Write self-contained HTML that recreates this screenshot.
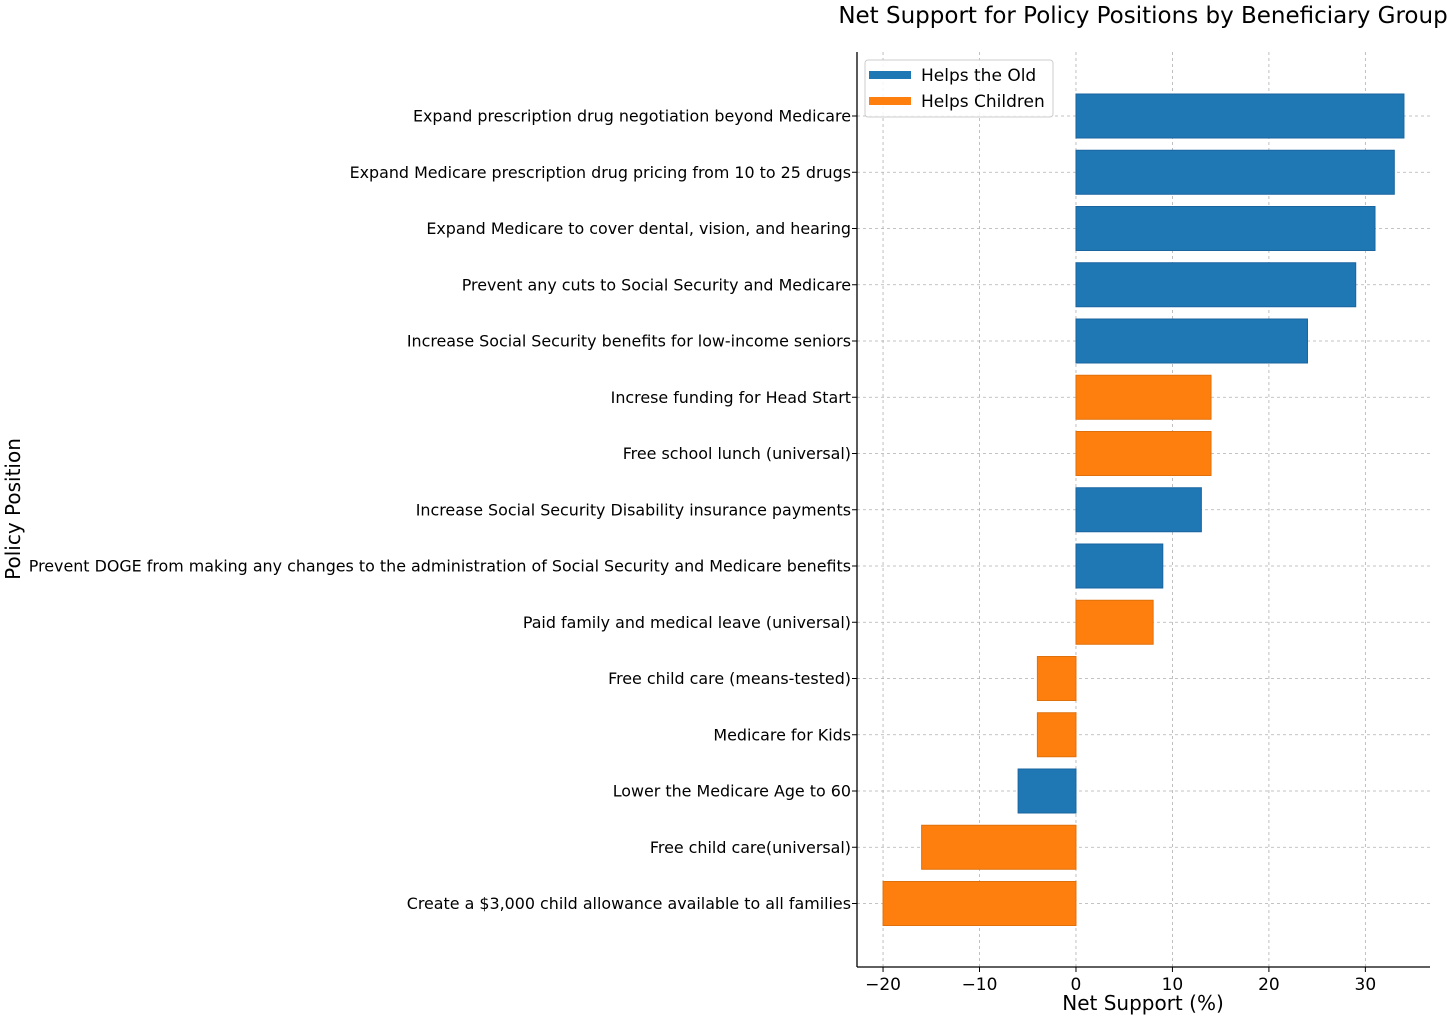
<!DOCTYPE html>
<html><head><meta charset="utf-8"><style>
html,body{margin:0;padding:0;background:#fff;}
svg{display:block;font-family:"DejaVu Sans","Liberation Sans",sans-serif;}
</style></head><body>
<svg id="chart" width="1456" height="1020" xmlns="http://www.w3.org/2000/svg"></svg>
<script>
const categories = [
"Expand prescription drug negotiation beyond Medicare",
"Expand Medicare prescription drug pricing from 10 to 25 drugs",
"Expand Medicare to cover dental, vision, and hearing",
"Prevent any cuts to Social Security and Medicare",
"Increase Social Security benefits for low-income seniors",
"Increse funding for Head Start",
"Free school lunch (universal)",
"Increase Social Security Disability insurance payments",
"Prevent DOGE from making any changes to the administration of Social Security and Medicare benefits",
"Paid family and medical leave (universal)",
"Free child care (means-tested)",
"Medicare for Kids",
"Lower the Medicare Age to 60",
"Free child care(universal)",
"Create a $3,000 child allowance available to all families"];
const values = [34,33,31,29,24,14,14,13,9,8,-4,-4,-6,-16,-20];
const groups = ["old","old","old","old","old","child","child","old","old","child","child","child","old","child","child"];
const xTicks = [-20,-10,0,10,20,30];
const xTickLabels = ["\u221220","\u221210","0","10","20","30"];

const NS="http://www.w3.org/2000/svg";
const svg=document.getElementById('chart');
const L=857,R=1430,T=52,B=967;
const xMin=-22.7,xMax=36.7;
const x=v=>L+(v-xMin)/(xMax-xMin)*(R-L);
const y0=116,step=56.25,bh=44;
const y=i=>y0+i*step;
const colors={old:"#1f77b4",child:"#ff7f0e"};
const edges={old:"#1a65a0",child:"#e0700c"};
function el(t,a,txt){const e=document.createElementNS(NS,t);for(const k in a)e.setAttribute(k,a[k]);if(txt!==undefined)e.textContent=txt;svg.appendChild(e);return e;}

xTicks.forEach((t,i)=>{
  const g=el('line',{x1:x(t),x2:x(t),y1:T,y2:B,stroke:"#b0b0b0","stroke-dasharray":"3,3","stroke-width":0.8});
  
  
  const tk=el('line',{x1:x(t),x2:x(t),y1:B,y2:B+5,stroke:"#000"});
  
  
  const lb=el('text',{x:x(t),y:B+23,"text-anchor":"middle","font-size":17,fill:"#000"},xTickLabels[i]);
  
  
});
categories.forEach((c,i)=>{
  const g=el('line',{x1:L,x2:R,y1:y(i),y2:y(i),stroke:"#b0b0b0","stroke-dasharray":"3,3","stroke-width":0.8});
  
  
});
values.forEach((v,i)=>{
  const r=el('rect',{x:Math.min(x(0),x(v)),y:y(i)-bh/2,width:Math.abs(x(v)-x(0)),height:bh,fill:colors[groups[i]],stroke:edges[groups[i]],"stroke-width":1});
  
  
});
categories.forEach((c,i)=>{
  const tk=el('line',{x1:L-5,x2:L,y1:y(i),y2:y(i),stroke:"#000"});
  
  
  const lb=el('text',{x:L-6,y:y(i)+5.5,"text-anchor":"end","font-size":15.9,fill:"#000"},c);
  
  
});
const ax1=el('line',{x1:L,x2:L,y1:T,y2:B,stroke:"#000","stroke-width":1.3});


const ax2=el('line',{x1:L,x2:R,y1:B,y2:B,stroke:"#000","stroke-width":1.3});



const t=el('text',{x:1143,y:23,"text-anchor":"middle","font-size":23,fill:"#000"},"Net Support for Policy Positions by Beneficiary Group");


const xt=el('text',{x:1143,y:1010,"text-anchor":"middle","font-size":20,fill:"#000"},"Net Support (%)");


const yt=el('text',{x:0,y:0,"text-anchor":"middle","font-size":20,fill:"#000",transform:"translate(20,509) rotate(-90)"},"Policy Position");



const lg=el('rect',{x:865,y:60,width:188,height:57,rx:3,fill:"#fff","fill-opacity":0.85,stroke:"#ccc"});


[["Helps the Old","old"],["Helps Children","child"]].forEach((d,i)=>{
  const s=el('rect',{x:869,y:71+i*26,width:42,height:8,fill:colors[d[1]]});
  
  
  const tx=el('text',{x:921,y:81+i*26,"font-size":17,fill:"#000"},d[0]);
  
  
});
</script>
</body></html>
